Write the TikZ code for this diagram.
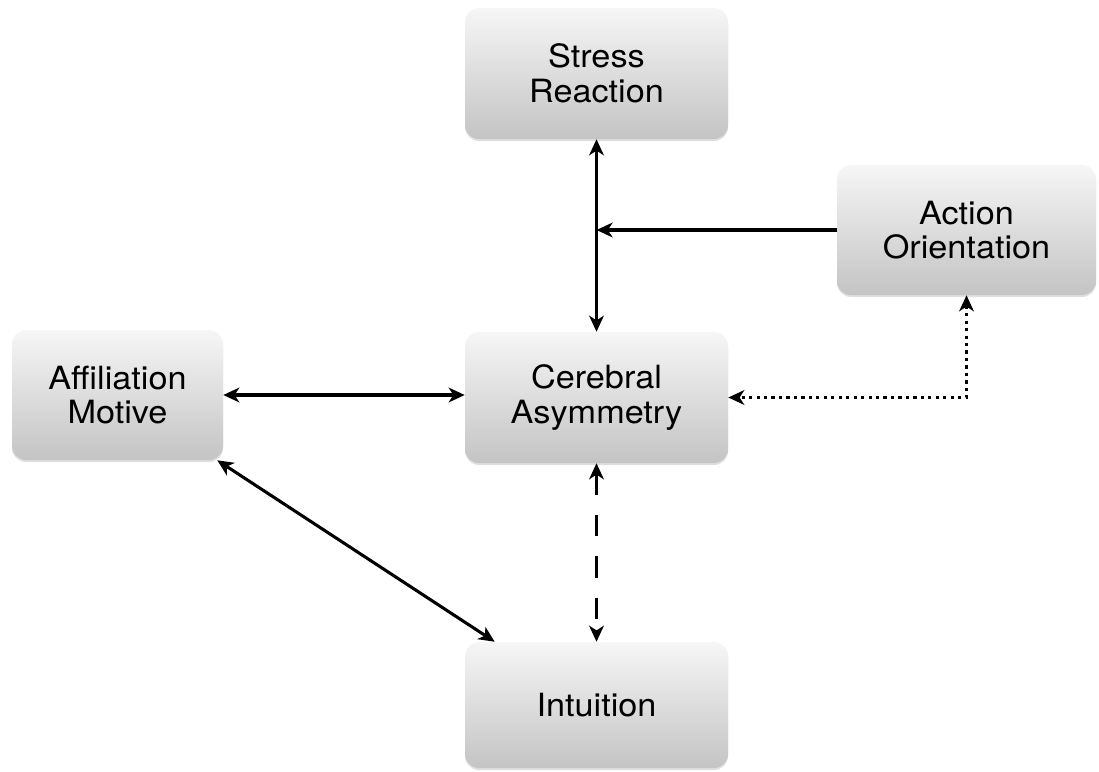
\documentclass[tikz,border=0pt]{standalone}
\usepackage{fontspec}
\setmainfont{TeX Gyre Heros}[FakeStretch=1.07]
\usepackage{tikz}
\usetikzlibrary{arrows.meta,shadows}

\definecolor{boxtop}{RGB}{246,246,246}
\definecolor{boxbot}{RGB}{196,196,196}

\begin{document}
\begin{tikzpicture}[x=0.75pt,y=0.75pt,yscale=-1,xscale=1,
	box/.style={rounded corners=10.5pt, top color=boxtop, bottom color=boxbot, draw=none,
		drop shadow={shadow xshift=0pt, shadow yshift=-1.5pt, opacity=0.25},
		align=center, inner sep=0pt, font=\fontsize{24}{26}\selectfont},
	link/.style={line width=2.3pt, -{Stealth[length=12pt,width=11pt,inset=3.5pt]}},
	twolink/.style={line width=2.3pt, {Stealth[length=12pt,width=11pt,inset=3.5pt]}-{Stealth[length=12pt,width=11pt,inset=3.5pt]}}]
	\useasboundingbox (0,0) rectangle (1099,771);
	
	%Rounded Rect: Stress Reaction
	\node [box, minimum width=197.25pt, minimum height=98.25pt] (stress) at (596.5,73.5) {Stress\\Reaction};
	%Rounded Rect: Action Orientation
	\node [box, minimum width=194.25pt, minimum height=97.5pt] (action) at (966.5,230) {Action\\Orientation};
	%Rounded Rect: Affiliation Motive
	\node [box, minimum width=158.25pt, minimum height=97.5pt] (affil) at (117.5,395) {Affiliation\\Motive};
	%Rounded Rect: Cerebral Asymmetry
	\node [box, minimum width=197.25pt, minimum height=98.25pt] (cereb) at (596.5,397.5) {Cerebral\\Asymmetry};
	%Rounded Rect: Intuition
	\node [box, minimum width=197.25pt, minimum height=94.5pt] (intu) at (596.5,705) {Intuition};
	
	%Straight Lines
	\draw [twolink] (stress.south) -- (cereb.north);
	\coordinate (jn) at (stress.south |- action.west);
	%Straight Lines
	\draw [link] (action.west) -- (jn);
	%Straight Lines
	\draw [twolink] (affil.east) -- (affil.east -| cereb.west);
	%Dotted Lines
	\draw [twolink, dash pattern=on 2.4pt off 3.2pt] (action.south) |- (cereb.east);
	%Straight Lines
	\draw [twolink] ([xshift=-4.5pt]affil.south east) -- ([xshift=22.5pt]intu.north west);
	%Dashed Lines
	\draw [twolink, dash pattern=on 16pt off 15pt] (cereb.south) -- (intu.north);
	
\end{tikzpicture}
\end{document}
